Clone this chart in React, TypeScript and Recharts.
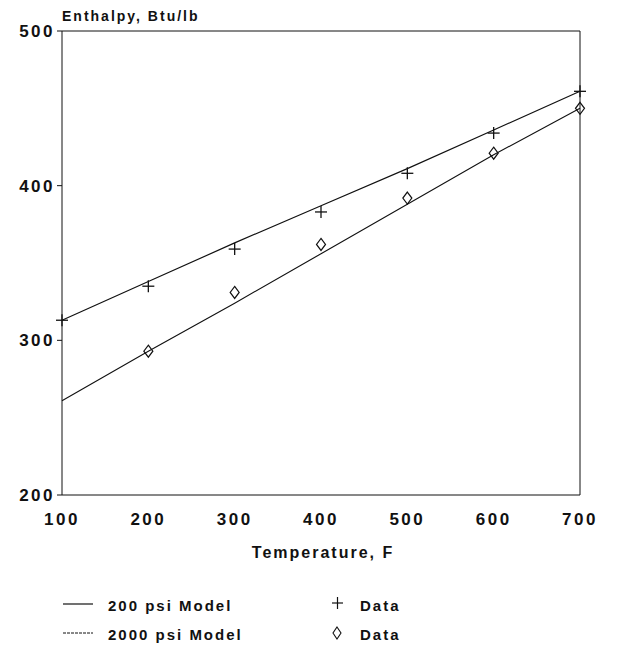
import React from "react";
import { ComposedChart, Line, Scatter, XAxis, YAxis, ReferenceLine } from "recharts";

const temps = [100, 200, 300, 400, 500, 600, 700];
const model200 = [313, 338, 363, 387, 411, 436, 461];
const model2000 = [261, 293, 324, 356, 388, 420, 450];
const data200Temps = [100, 200, 300, 400, 500, 600, 700];
const data200 = [313, 335, 359, 383, 408, 434, 461];
const data2000Temps = [200, 300, 400, 500, 600, 700];
const data2000 = [293, 331, 362, 392, 421, 450];
const xTicks = [100, 200, 300, 400, 500, 600, 700];
const yTicks = [200, 300, 400, 500];

const chartData = temps.map((t, i) => ({ t, m200: model200[i], m2000: model2000[i] }));
const pts200 = data200Temps.map((t, i) => ({ t, h: data200[i] }));
const pts2000 = data2000Temps.map((t, i) => ({ t, h: data2000[i] }));

const FONT = '"Liberation Sans", Arial, Helvetica, sans-serif';
const INK = "#111";

const Plus = (p: any) => {
  const { cx, cy } = p;
  if (cx == null || cy == null) return null;
  return (
    <g stroke={INK} strokeWidth={1.3}>
      <line x1={cx - 6} y1={cy} x2={cx + 6} y2={cy} />
      <line x1={cx} y1={cy - 6} x2={cx} y2={cy + 6} />
    </g>
  );
};

const Diamond = (p: any) => {
  const { cx, cy } = p;
  if (cx == null || cy == null) return null;
  return (
    <path
      d={`M${cx},${cy - 6} L${cx + 4.5},${cy} L${cx},${cy + 6} L${cx - 4.5},${cy} Z`}
      fill="none"
      stroke={INK}
      strokeWidth={1.2}
    />
  );
};

const YTitle = (props: any) => {
  const vb = props.viewBox || {};
  return (
    <text
      x={(vb.x || 0) + (vb.width || 62)}
      y={(vb.y || 31) - 10}
      fontFamily={FONT}
      fontWeight="bold"
      fontSize={14}
      letterSpacing={2}
      fill={INK}
    >
      Enthalpy, Btu/lb
    </text>
  );
};

const XTitle = (props: any) => {
  const vb = props.viewBox || {};
  return (
    <text
      x={(vb.x || 62) + (vb.width || 518) / 2 + 2}
      y={(vb.y || 496) + 63}
      textAnchor="middle"
      fontFamily={FONT}
      fontWeight="bold"
      fontSize={16}
      letterSpacing={2}
      fill={INK}
    >
      Temperature, F
    </text>
  );
};

const legendText: React.CSSProperties = {
  position: "absolute",
  fontFamily: FONT,
  fontWeight: "bold",
  fontSize: 15,
  letterSpacing: 2,
  color: INK,
  lineHeight: "15px",
  whiteSpace: "nowrap",
};

export default function App() {
  return (
    <div style={{ position: "absolute", left: 0, top: 0, width: 617, height: 651, background: "#fff" }}>
      <ComposedChart
        width={617}
        height={651}
        data={chartData}
        margin={{ top: 31, right: 37, bottom: 126, left: 0 }}
      >
        <XAxis
          dataKey="t"
          type="number"
          domain={[100, 700]}
          ticks={xTicks}
          height={30}
          stroke={INK}
          tickLine={false}
          tickSize={0}
          tickMargin={18}
          tick={{ fontFamily: FONT, fontWeight: "bold", fontSize: 17, letterSpacing: 2.5, fill: INK }}
          label={{ content: XTitle }}
        />
        <YAxis
          type="number"
          domain={[200, 500]}
          ticks={yTicks}
          width={62}
          stroke={INK}
          tickSize={5}
          tickMargin={2}
          tick={{ fontFamily: FONT, fontWeight: "bold", fontSize: 17, letterSpacing: 2.5, fill: INK }}
          label={{ content: YTitle }}
        />
        <ReferenceLine y={500} stroke={INK} strokeWidth={1} />
        <ReferenceLine x={700} stroke={INK} strokeWidth={1} />
        <Line
          dataKey="m200"
          stroke={INK}
          strokeWidth={1.2}
          dot={false}
          activeDot={false}
          type="linear"
          isAnimationActive={false}
        />
        <Line
          dataKey="m2000"
          stroke={INK}
          strokeWidth={1.1}
          dot={false}
          activeDot={false}
          type="linear"
          isAnimationActive={false}
        />
        <Scatter data={pts200} dataKey="h" shape={Plus} isAnimationActive={false} />
        <Scatter data={pts2000} dataKey="h" shape={Diamond} isAnimationActive={false} />
      </ComposedChart>

      <svg style={{ position: "absolute", left: 0, top: 590 }} width={617} height={60}>
        <line x1={63} y1={14} x2={93} y2={14} stroke={INK} strokeWidth={1.2} />
        <line x1={63} y1={43} x2={93} y2={43} stroke={INK} strokeWidth={1} strokeDasharray="3 1" />
        <g stroke={INK} strokeWidth={1.2}>
          <line x1={332} y1={13} x2={343} y2={13} />
          <line x1={337.5} y1={7} x2={337.5} y2={19} />
        </g>
        <path d="M337,37 L341,43 L337,49 L333,43 Z" fill="none" stroke={INK} strokeWidth={1.1} />
      </svg>
      <div style={{ ...legendText, left: 108, top: 598 }}>200 psi Model</div>
      <div style={{ ...legendText, left: 108, top: 627 }}>2000 psi Model</div>
      <div style={{ ...legendText, left: 360, top: 598 }}>Data</div>
      <div style={{ ...legendText, left: 360, top: 627 }}>Data</div>
    </div>
  );
}
